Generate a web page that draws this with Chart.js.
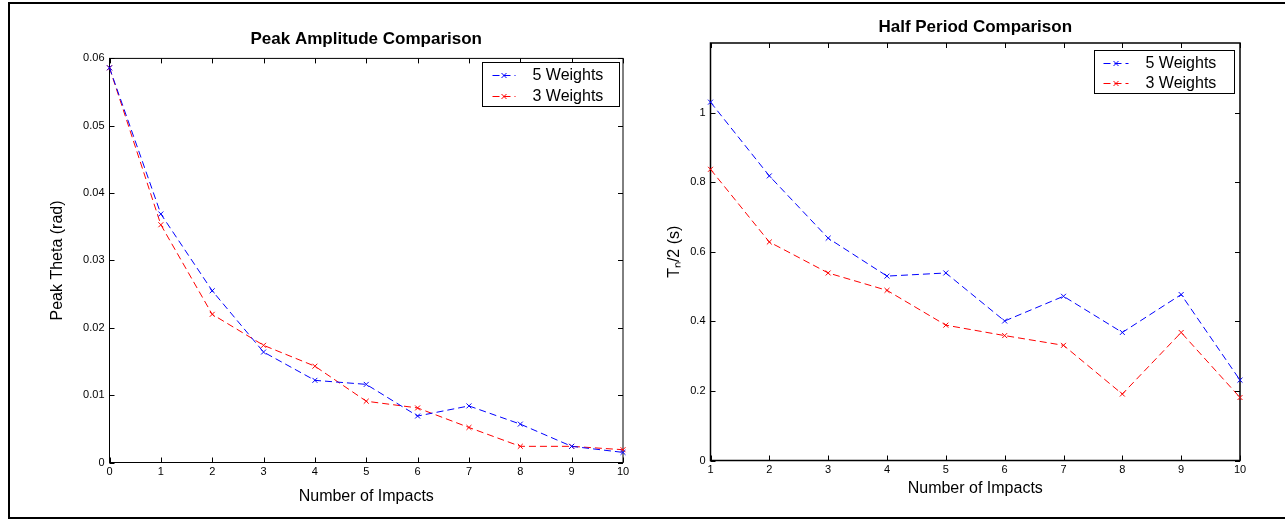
<!DOCTYPE html>
<html><head><meta charset="utf-8">
<script src="https://cdn.jsdelivr.net/npm/chart.js@4.4.1/dist/chart.umd.min.js"></script>
<style>
html,body{margin:0;padding:0;background:#fff;}
body{width:1285px;height:520px;position:relative;overflow:hidden;}
#frame{position:absolute;left:8px;top:2px;width:1300px;height:513px;border:2px solid #000;}
#c1{position:absolute;left:0;top:0;}
#c2{position:absolute;left:650px;top:0;}
</style></head><body>
<div id="frame"></div>
<canvas id="c1" width="650" height="520"></canvas>
<canvas id="c2" width="635" height="520"></canvas>
<script>
// ---- data ----
const seriesLabels = ['5 Weights', '3 Weights'];
const impactsAmp = [0, 1, 2, 3, 4, 5, 6, 7, 8, 9, 10];
const amp5 = [0.0586, 0.0369, 0.0255, 0.0164, 0.0122, 0.0116, 0.0069, 0.0084, 0.0057, 0.0024, 0.0015];
const amp3 = [0.0586, 0.0353, 0.0220, 0.0174, 0.0143, 0.0091, 0.0081, 0.0052, 0.0024, 0.0024, 0.0019];
const impactsHalf = [1, 2, 3, 4, 5, 6, 7, 8, 9, 10];
const half5 = [1.030, 0.818, 0.639, 0.530, 0.539, 0.401, 0.472, 0.368, 0.477, 0.231];
const half3 = [0.837, 0.628, 0.539, 0.489, 0.389, 0.359, 0.331, 0.191, 0.368, 0.181];
const ampXTicks = [0, 1, 2, 3, 4, 5, 6, 7, 8, 9, 10];
const ampYTicks = [0, 0.01, 0.02, 0.03, 0.04, 0.05, 0.06];
const halfXTicks = [1, 2, 3, 4, 5, 6, 7, 8, 9, 10];
const halfYTicks = [0, 0.2, 0.4, 0.6, 0.8, 1];

const FONT = '"Liberation Sans", Arial, Helvetica, sans-serif';

const framePlugin = {
  id: 'matlabFrame',
  beforeDatasetsDraw(chart, args, o) {
    const {ctx, chartArea: a, scales} = chart;
    ctx.save();
    ctx.strokeStyle = '#000';
    ctx.setLineDash([]);
    ctx.lineWidth = 1;
    const L = 5;
    ctx.beginPath();
    scales.x.ticks.forEach(t => {
      const px = Math.round(scales.x.getPixelForValue(t.value)) + 0.5;
      ctx.moveTo(px, a.bottom); ctx.lineTo(px, a.bottom - L);
      ctx.moveTo(px, a.top); ctx.lineTo(px, a.top + L);
    });
    scales.y.ticks.forEach(t => {
      const py = Math.round(scales.y.getPixelForValue(t.value)) + 0.5;
      ctx.moveTo(a.left, py); ctx.lineTo(a.left + L, py);
      ctx.moveTo(a.right, py); ctx.lineTo(a.right - L, py);
    });
    ctx.stroke();
    ctx.lineWidth = o.frameWidth || 1;
    ctx.strokeRect(a.left, a.top, a.right - a.left, a.bottom - a.top);
    ctx.restore();
  }
};

const boxLegend = {
  id: 'boxLegend',
  afterDraw(chart, args, o) {
    const {ctx, chartArea: a} = chart;
    const x = Math.round(a.right - o.right - o.width) + 0.5;
    const y = Math.round(a.top + o.top) + 0.5;
    ctx.save();
    ctx.fillStyle = '#fff';
    ctx.fillRect(x, y, o.width, o.height);
    ctx.strokeStyle = '#000';
    ctx.lineWidth = 1;
    ctx.setLineDash([]);
    ctx.strokeRect(x, y, o.width, o.height);
    chart.data.datasets.forEach((ds, i) => {
      const cy = Math.round(y + o.rows[i]) + 0.5;
      ctx.strokeStyle = ds.borderColor;
      ctx.lineWidth = 1;
      ctx.setLineDash(ds.borderDash);
      ctx.beginPath();
      ctx.moveTo(x + o.lineStart, cy); ctx.lineTo(x + o.lineEnd, cy);
      ctx.stroke();
      ctx.setLineDash([]);
      const mx = x + (o.lineStart + o.lineEnd) / 2, r = 2.5;
      ctx.beginPath();
      ctx.moveTo(mx - r, cy - r); ctx.lineTo(mx + r, cy + r);
      ctx.moveTo(mx + r, cy - r); ctx.lineTo(mx - r, cy + r);
      ctx.stroke();
      ctx.fillStyle = '#000';
      ctx.font = '16px ' + FONT;
      ctx.textBaseline = 'middle';
      ctx.textAlign = 'left';
      ctx.fillText(ds.label, x + o.textX, cy);
    });
    ctx.restore();
  }
};

function fmt(v) { return String(Math.round(v * 1e6) / 1e6); }

function makeChart(id, cfg) {
  const mk = (xs, ys) => xs.map((x, i) => ({x: x, y: ys[i]}));
  const dsBase = {
    borderWidth: 1, borderDash: [7, 4], pointStyle: 'crossRot', pointRadius: 3.5,
    pointBorderWidth: 1, tension: 0, fill: false, clip: false
  };
  return new Chart(document.getElementById(id), {
    type: 'line',
    data: {
      datasets: [
        Object.assign({}, dsBase, {label: seriesLabels[0], data: mk(cfg.xs, cfg.s5),
          borderColor: '#0000ff', pointBorderColor: '#0000ff', backgroundColor: '#0000ff'}),
        Object.assign({}, dsBase, {label: seriesLabels[1], data: mk(cfg.xs, cfg.s3),
          borderColor: '#ff0000', pointBorderColor: '#ff0000', backgroundColor: '#ff0000'})
      ]
    },
    options: {
      responsive: false, animation: false, devicePixelRatio: 1,
      layout: {padding: cfg.padding},
      plugins: {
        legend: {display: false},
        tooltip: {enabled: false},
        title: {display: true, text: cfg.title, fullSize: false, color: '#000',
          font: {size: 17, weight: 'bold', family: FONT}, padding: cfg.titlePad},
        matlabFrame: {frameWidth: cfg.frameWidth},
        boxLegend: cfg.legend
      },
      scales: {
        x: {
          type: 'linear', min: cfg.xMin, max: cfg.xMax,
          afterBuildTicks: s => { s.ticks = cfg.xTicks.map(v => ({value: v})); },
          afterFit: s => { s.height = cfg.xHeight; },
          ticks: {color: '#000', font: {size: 11, family: FONT}, padding: 3, callback: fmt, maxRotation: 0, autoSkip: false},
          grid: {display: false, drawTicks: false},
          border: {display: false},
          title: {display: true, text: 'Number of Impacts', color: '#000',
            font: {size: 16, family: FONT}, padding: {top: 0, bottom: cfg.xTitlePad}}
        },
        y: {
          type: 'linear', min: cfg.yMin, max: cfg.yMax,
          afterBuildTicks: s => { s.ticks = cfg.yTicks.map(v => ({value: v})); },
          afterFit: s => { s.width = cfg.yWidth; },
          ticks: {color: '#000', font: {size: 11, family: FONT}, padding: 5, callback: fmt, autoSkip: false},
          grid: {display: false, drawTicks: false},
          border: {display: false},
          title: {display: true, text: cfg.yTitle, color: '#000',
            font: {size: 16, family: FONT}, padding: {top: cfg.yTitlePad, bottom: 0}}
        }
      }
    },
    plugins: [framePlugin, boxLegend]
  });
}

makeChart('c1', {
  xs: impactsAmp, s5: amp5, s3: amp3,
  title: 'Peak Amplitude Comparison', titlePad: {top: 29, bottom: 9},
  padding: {left: 30, right: 27, top: 0, bottom: 0},
  xMin: 0, xMax: 10, xTicks: ampXTicks, xHeight: 57.5, xTitlePad: 13.4,
  yMin: 0, yMax: 0.06, yTicks: ampYTicks, yWidth: 79.5, yTitlePad: 18.4,
  yTitle: 'Peak Theta (rad)', frameWidth: 1,
  legend: {right: 4, top: 4, width: 137, height: 44, rows: [12, 33], lineStart: 10, lineEnd: 33, textX: 50}
});

makeChart('c2', {
  xs: impactsHalf, s5: half5, s3: half3,
  title: 'Half Period Comparison', titlePad: {top: 16.8, bottom: 5.8},
  padding: {left: 5, right: 45, top: 0, bottom: 0},
  xMin: 1, xMax: 10, xTicks: halfXTicks, xHeight: 59.5, xTitlePad: 21.4,
  yMin: 0, yMax: 1.2, yTicks: halfYTicks, yWidth: 55.5, yTitlePad: 10.4,
  yTitle: 'T\u2099/2 (s)', frameWidth: 1.5,
  legend: {right: 6, top: 7, width: 140, height: 43, rows: [12, 32], lineStart: 9, lineEnd: 34, textX: 51}
});
</script>
</body></html>
